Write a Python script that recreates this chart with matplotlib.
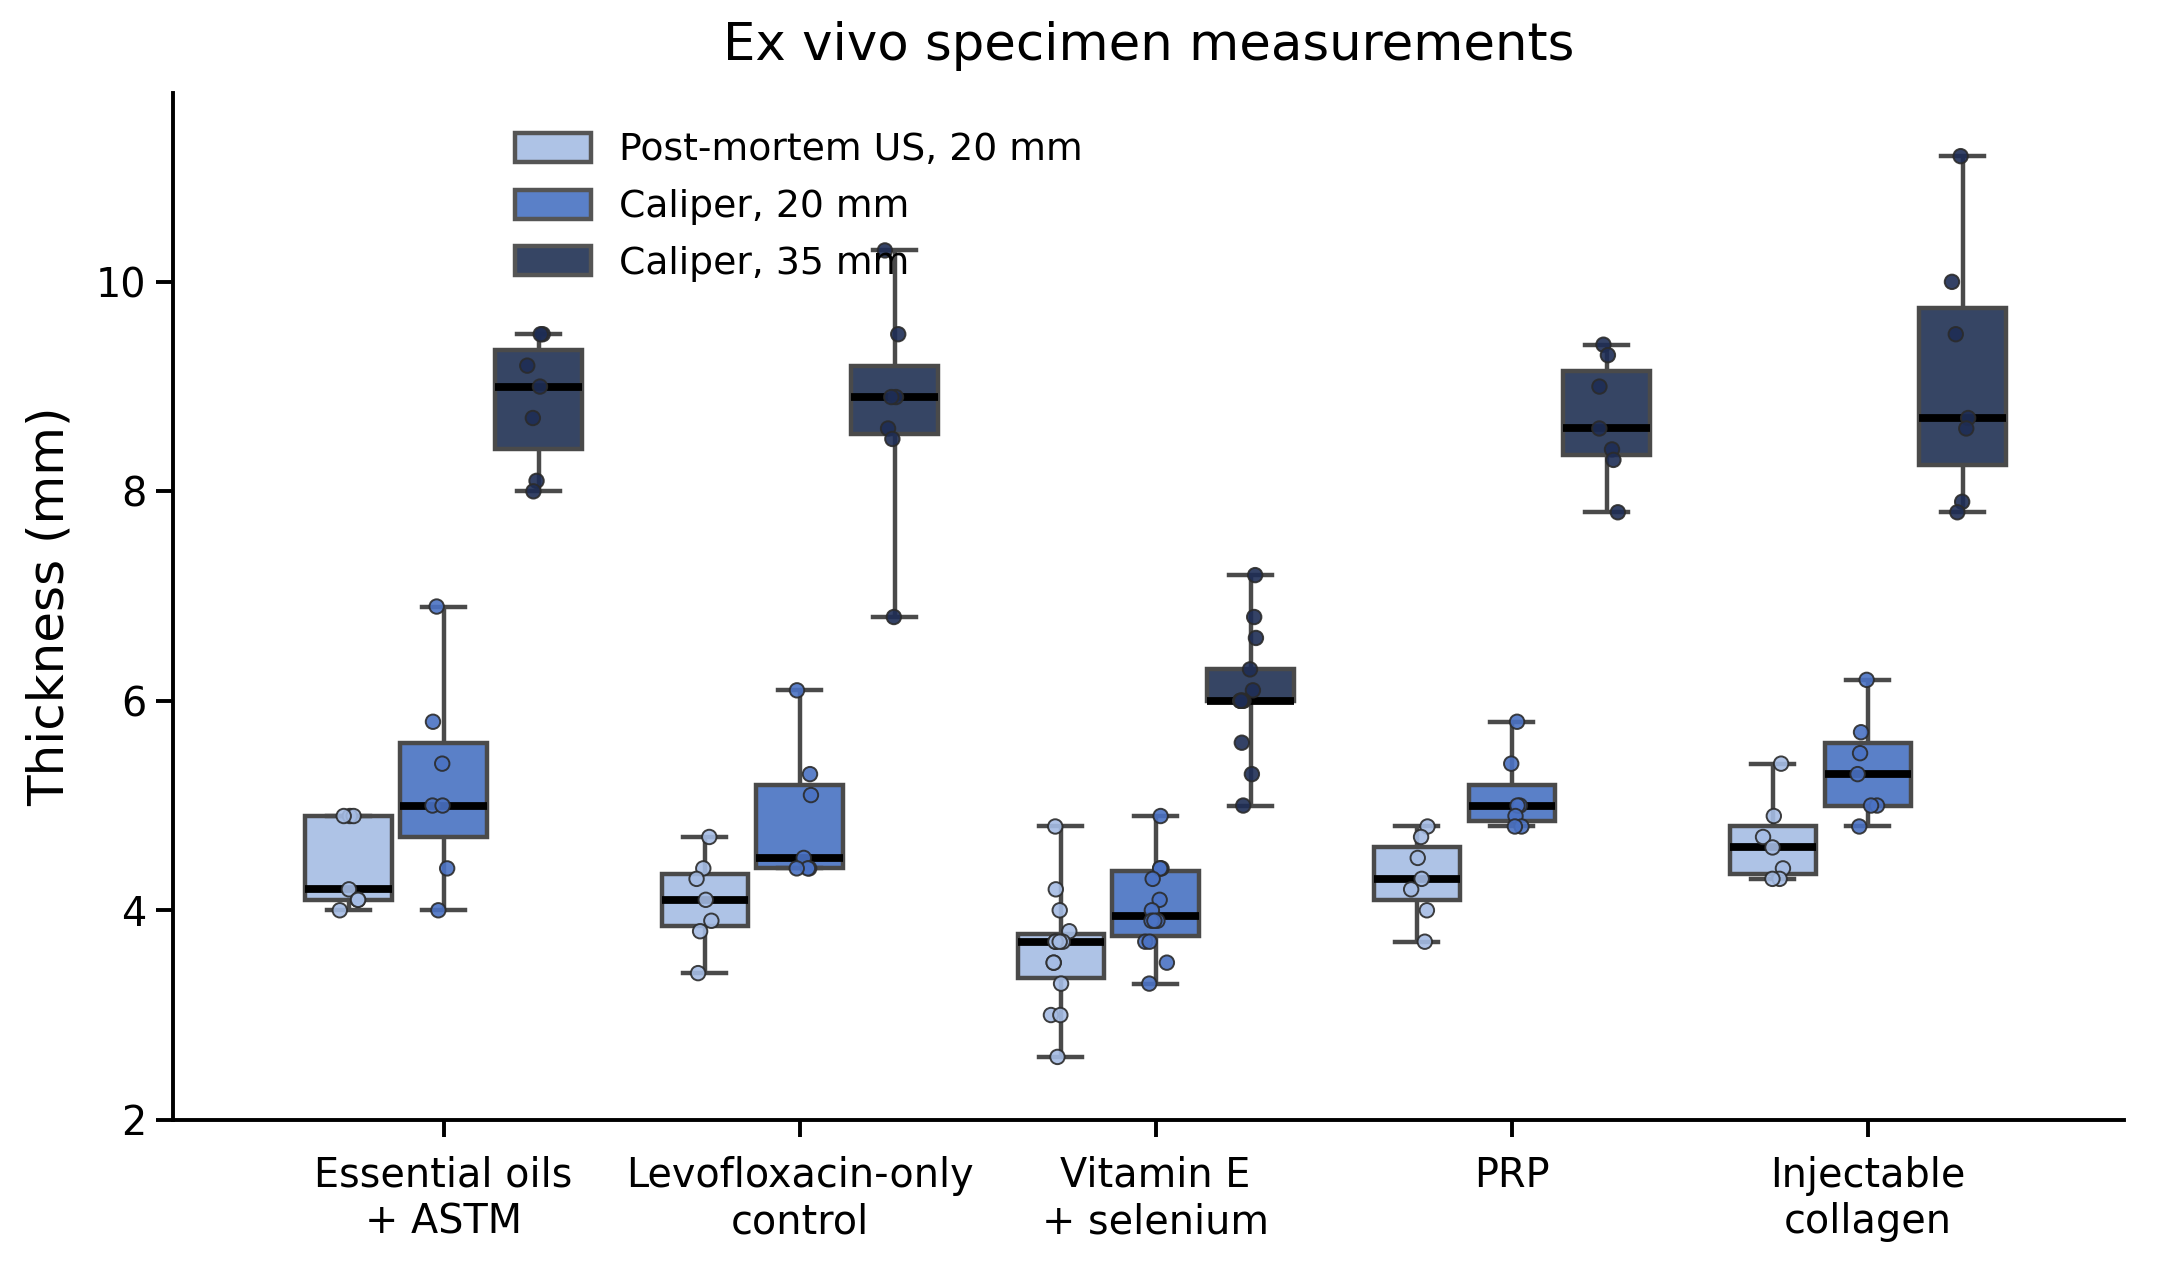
import numpy as np
import pandas as pd
import matplotlib
matplotlib.use("Agg")
import matplotlib.pyplot as plt
import matplotlib.patches as mpatches
import seaborn as sns

# Treatment groups and measurement methods
groups = ["Essential oils\n+ ASTM", "Levofloxacin-only\ncontrol", "Vitamin E\n+ selenium",
          "PRP", "Injectable\ncollagen"]
methods = ["Post-mortem US, 20 mm", "Caliper, 20 mm", "Caliper, 35 mm"]

# Thickness values (mm)
us_20 = [
    [4.9, 4.9, 4.9, 4.2, 4.1, 4.1, 4.0],
    [4.7, 4.4, 4.3, 4.1, 3.9, 3.8, 3.4],
    [4.8, 4.2, 4.0, 3.8, 3.7, 3.7, 3.7, 3.7, 3.5, 3.5, 3.3, 3.0, 3.0, 2.6],
    [4.8, 4.7, 4.5, 4.3, 4.2, 4.0, 3.7],
    [5.4, 4.9, 4.7, 4.6, 4.4, 4.3, 4.3],
]
cal_20 = [
    [6.9, 5.8, 5.4, 5.0, 5.0, 4.4, 4.0],
    [6.1, 5.3, 5.1, 4.5, 4.4, 4.4, 4.4],
    [4.9, 4.4, 4.4, 4.4, 4.3, 4.1, 4.0, 3.9, 3.9, 3.9, 3.7, 3.7, 3.5, 3.3],
    [5.8, 5.4, 5.0, 5.0, 4.9, 4.8, 4.8],
    [6.2, 5.7, 5.5, 5.3, 5.0, 5.0, 4.8],
]
cal_35 = [
    [9.5, 9.5, 9.2, 9.0, 8.7, 8.1, 8.0],
    [10.3, 9.5, 8.9, 8.9, 8.6, 8.5, 6.8],
    [7.2, 6.8, 6.6, 6.3, 6.1, 6.0, 6.0, 6.0, 6.0, 6.0, 5.6, 5.3, 5.0],
    [9.4, 9.3, 9.0, 8.6, 8.4, 8.3, 7.8],
    [11.2, 10.0, 9.5, 8.7, 8.6, 7.9, 7.8],
]

box_colors = ["#aec3e6", "#5a80c8", "#364564"]
point_colors = ["#a5bce4", "#4a72c4", "#1e2d55"]

rows = []
for method, series in zip(methods, [us_20, cal_20, cal_35]):
    for group, vals in zip(groups, series):
        for v in vals:
            rows.append({"group": group, "method": method, "value": v})
df = pd.DataFrame(rows)

fig, ax = plt.subplots(figsize=(10.815, 6.305), dpi=200)

sns.boxplot(data=df, x="group", y="value", hue="method", order=groups, hue_order=methods,
            palette=box_colors, width=0.8, gap=0.09, whis=(0, 100), showfliers=False,
            saturation=1, linewidth=1.6, linecolor="#4a4a4a",
            medianprops={"color": "black", "linewidth": 2.8},
            legend=False, ax=ax)

np.random.seed(3)
sns.stripplot(data=df, x="group", y="value", hue="method", order=groups, hue_order=methods,
              palette=point_colors, dodge=True, jitter=0.1, size=5.2, linewidth=0.7,
              edgecolor="#2b2b2b", alpha=0.9, legend=False, ax=ax)

ax.set_xlim(-0.76, 4.72)
ax.set_ylim(2, 11.8)
ax.set_yticks([2, 4, 6, 8, 10])
ax.set_xlabel("")
ax.set_ylabel("Thickness (mm)", fontsize=18, labelpad=8)
ax.set_title("Ex vivo specimen measurements", fontsize=18.5, pad=12)
ax.tick_params(axis="both", labelsize=14.3, width=1.4, length=6)
ax.tick_params(axis="x", pad=7)
for s in ["top", "right"]:
    ax.spines[s].set_visible(False)
for s in ["left", "bottom"]:
    ax.spines[s].set_linewidth(1.4)

handles = [mpatches.Patch(facecolor=c, edgecolor="#555555", linewidth=1.6, label=m)
           for c, m in zip(box_colors, methods)]
ax.legend(handles=handles, loc="upper left", bbox_to_anchor=(0.158, 0.995),
          frameon=False, fontsize=13.6, handlelength=2.0, handleheight=0.8,
          labelspacing=0.55, handletextpad=0.75)

plt.subplots_adjust(left=0.08, right=0.982, top=0.926, bottom=0.112)
plt.savefig("out.png", dpi=200)
